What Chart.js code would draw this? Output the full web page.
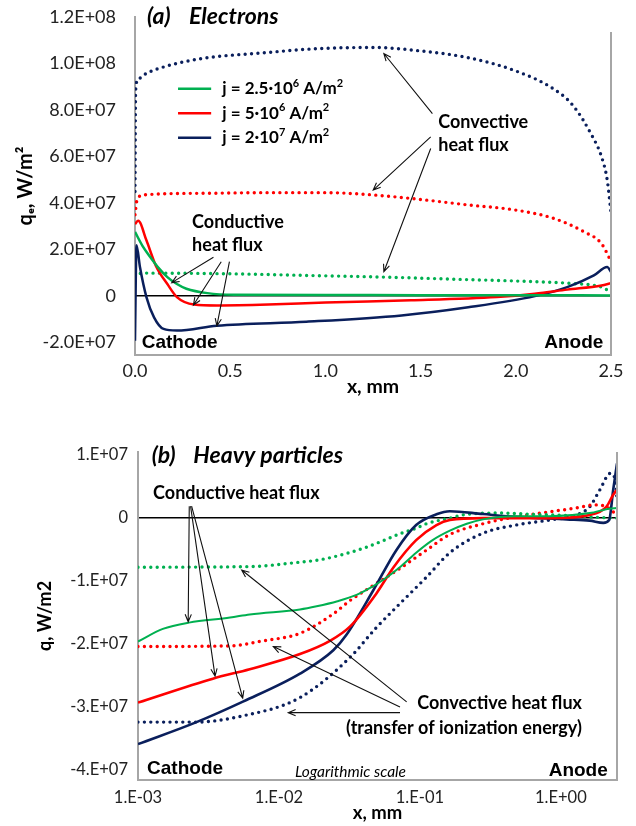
<!DOCTYPE html>
<html>
<head>
<meta charset="utf-8">
<script src="https://cdn.jsdelivr.net/npm/chart.js@4.4.1/dist/chart.umd.min.js"></script>
<style>
  html, body { margin: 0; padding: 0; background: #fff; }
  #top { position: absolute; left: 0; top: 0; width: 636px; height: 400px; }
  #bottom { position: absolute; left: 0; top: 420px; width: 636px; height: 406px; }
</style>
</head>
<body>
<div id="top"><canvas id="electrons"></canvas></div>
<div id="bottom"><canvas id="heavy"></canvas></div>
<script>
// ---- (a) Electrons, linear x ----
const eTicks = [-2e7, 0, 2e7, 4e7, 6e7, 8e7, 1e8, 1.2e8];
const eTickLabels = ["-2.0E+07", "0", "2.0E+07", "4.0E+07", "6.0E+07", "8.0E+07", "1.0E+08", "1.2E+08"];
const xTicks = [0, 0.5, 1, 1.5, 2, 2.5];
const xTickLabels = ["0.0", "0.5", "1.0", "1.5", "2.0", "2.5"];
const currentLabels = ["j = 2.5·10^6 A/m^2", "j = 5·10^6 A/m^2", "j = 2·10^7 A/m^2"];

// conductive (solid)
const eCondLowX = [0, 0.04, 0.08, 0.12, 0.17, 0.22, 0.27, 0.38, 0.52, 1.0, 1.5, 2.0, 2.5];
const eCondLow = [2.76e7, 2.15e7, 1.68e7, 1.25e7, 8.2e6, 5.2e6, 3.2e6, 1.3e6, 6e5, 5e5, 4e5, 4e5, 3e5];
const eCondMidX = [0, 0.017, 0.06, 0.11, 0.17, 0.22, 0.31, 0.43, 0.7, 1.0, 1.45, 1.9, 2.1, 2.27, 2.45, 2.5];
const eCondMid = [3.1e7, 3.24e7, 2.4e7, 1.3e7, 5.2e6, -4e5, -3.6e6, -4.0e6, -3.6e6, -2.7e6, -1.8e6, -4e5, 1.0e6, 2.8e6, 4.6e6, 5.6e6];
const eCondHighX = [0, 0.008, 0.026, 0.06, 0.1, 0.15, 0.22, 0.43, 0.9, 1.4, 1.75, 2.1, 2.27, 2.41, 2.48, 2.5];
const eCondHigh = [-1.92e7, 2.19e7, 1.25e7, -4e5, -9.1e6, -1.41e7, -1.48e7, -1.27e7, -1.1e7, -8.3e6, -4.8e6, 0, 3.9e6, 8.9e6, 1.25e7, 1.04e7];
// convective (dotted)
const eConvLowX = [0, 0.02, 0.05, 0.5, 0.9, 1.3, 1.75, 2.0, 2.3, 2.45, 2.5];
const eConvLow = [8.2e6, 9.5e6, 9.9e6, 9.6e6, 8.9e6, 8.2e6, 7.1e6, 6.5e6, 5.4e6, 3.9e6, 1.7e6];
const eConvMidX = [0, 0.01, 0.044, 0.34, 0.7, 1.0, 1.2, 1.45, 1.75, 2.0, 2.2, 2.36, 2.45, 2.5];
const eConvMid = [3.5e7, 4.1e7, 4.35e7, 4.42e7, 4.45e7, 4.45e7, 4.38e7, 4.2e7, 3.92e7, 3.7e7, 3.34e7, 2.76e7, 2.26e7, 1.5e7];
const eConvHighX = [0, 0.003, 0.015, 0.044, 0.13, 0.34, 0.69, 0.96, 1.25, 1.5, 1.75, 2.0, 2.2, 2.3, 2.4, 2.45, 2.48, 2.5];
const eConvHigh = [4.5e7, 8.8e7, 9.3e7, 9.5e7, 9.8e7, 1.02e8, 1.047e8, 1.064e8, 1.069e8, 1.054e8, 1.025e8, 9.68e7, 8.9e7, 8.2e7, 6.9e7, 6.0e7, 5.0e7, 3.6e7];

// ---- (b) Heavy particles, log x ----
const hTicks = [-4e7, -3e7, -2e7, -1e7, 0, 1e7];
const hTickLabels = ["-4.E+07", "-3.E+07", "-2.E+07", "-1.E+07", "0", "1.E+07"];
const logTicks = [1e-3, 1e-2, 1e-1, 1];
const logTickLabels = ["1.E-03", "1.E-02", "1.E-01", "1.E+00"];

const hCondLowX = [1e-3, 1.5e-3, 2.3e-3, 4.5e-3, 6.2e-3, 0.0141, 0.0185, 0.026, 0.0355, 0.045, 0.055, 0.072, 0.094, 0.123, 0.163, 0.215, 0.28, 0.48, 0.83, 1.6, 2.2, 2.5];
const hCondLow = [-1.96e7, -1.76e7, -1.66e7, -1.58e7, -1.53e7, -1.45e7, -1.4e7, -1.32e7, -1.22e7, -1.1e7, -9.8e6, -7.8e6, -5.5e6, -3.5e6, -2.0e6, -9e5, -2e5, 3e5, 3e5, 8e5, 1.5e6, 1.6e6];
const hConvLowX = [1e-3, 6.2e-3, 0.0141, 0.0185, 0.024, 0.042, 0.072, 0.094, 0.111, 0.163, 0.215, 0.37, 0.63, 1.1, 1.89, 2.5];
const hConvLow = [-7.8e6, -7.7e6, -7.0e6, -6.7e6, -6.2e6, -4.6e6, -2.5e6, -1.6e6, -9e5, 0, 6e5, 8e5, 6e5, 4e5, 1e5, 0];
const hCondMidX = [1e-3, 3.4e-3, 6.2e-3, 0.0141, 0.023, 0.032, 0.049, 0.065, 0.094, 0.131, 0.163, 0.28, 0.83, 1.6, 2.1, 2.35, 2.5];
const hCondMid = [-2.93e7, -2.55e7, -2.4e7, -2.16e7, -1.95e7, -1.72e7, -1.2e7, -7.8e6, -3.5e6, -1.1e6, -3e5, 0, 0, 5e5, 1.8e6, 3.7e6, 4.5e6];
const hConvMidX = [1e-3, 4.5e-3, 7.7e-3, 0.0141, 0.0243, 0.0319, 0.049, 0.072, 0.111, 0.163, 0.28, 0.48, 0.83, 1.28, 1.75, 2.1, 2.35, 2.5];
const hConvMid = [-2.04e7, -2.03e7, -1.95e7, -1.83e7, -1.52e7, -1.31e7, -1.04e7, -8.0e6, -5.1e6, -2.6e6, -9e5, 2e5, 1.0e6, 1.6e6, 2.1e6, 1.8e6, 1.0e6, 2e5];
const hCondHighX = [1e-3, 2.6e-3, 5.6e-3, 0.0141, 0.0243, 0.0302, 0.0466, 0.068, 0.094, 0.131, 0.163, 0.28, 0.48, 1.1, 1.6, 2.0, 2.2, 2.35, 2.5];
const hCondHigh = [-3.59e7, -3.24e7, -2.91e7, -2.47e7, -2.1e7, -1.85e7, -1.15e7, -5.1e6, -1.1e6, 6e5, 1.1e6, 6.4e5, 2e5, -2e5, -4e5, -7.5e5, -3e5, 4.5e6, 8.7e6];
const hConvHighX = [1e-3, 2.6e-3, 5.3e-3, 0.0141, 0.032, 0.049, 0.072, 0.111, 0.163, 0.28, 0.48, 0.83, 1.28, 1.6, 1.89, 2.24, 2.43, 2.5];
const hConvHigh = [-3.24e7, -3.24e7, -3.15e7, -2.85e7, -2.21e7, -1.74e7, -1.36e7, -9.4e6, -5.5e6, -2.4e6, -1.1e6, -3e5, 5e5, 1.8e6, 4.5e6, 7.1e6, 6.1e6, 3e6];

const GREEN = "#00b050", RED = "#ff0000", NAVY = "#0a1f5c";
const AXIS = "#a6a6a6";
const CLEAR = "rgba(0,0,0,0)";
const FONT = "Lato, 'DejaVu Sans', sans-serif";
Chart.defaults.font.family = FONT;

const pts = (xs, ys) => xs.map((x, i) => ({ x, y: ys[i] }));
const solid = (xs, ys, color, width) => ({
  data: pts(xs, ys), borderColor: color, borderWidth: width,
  pointRadius: 0, cubicInterpolationMode: "monotone",
});
const dotted = (xs, ys, color) => ({
  data: pts(xs, ys), borderColor: color, borderWidth: 3.4,
  borderDash: [0, 6.4], borderCapStyle: "round",
  pointRadius: 0, cubicInterpolationMode: "monotone",
});

// arrow with open head at (x2, y2)
const arrow = (ctx, x1, y1, x2, y2) => {
  const a = Math.atan2(y2 - y1, x2 - x1);
  ctx.beginPath();
  ctx.moveTo(x1, y1);
  ctx.lineTo(x2, y2);
  ctx.moveTo(x2 - 8 * Math.cos(a - 0.4), y2 - 8 * Math.sin(a - 0.4));
  ctx.lineTo(x2, y2);
  ctx.lineTo(x2 - 8 * Math.cos(a + 0.4), y2 - 8 * Math.sin(a + 0.4));
  ctx.stroke();
};

// text where "^c" is drawn as a superscript c
const drawRich = (ctx, text, x, y, size, style) => {
  text.split(/\^(.)/).forEach((part, i) => {
    const sup = i % 2 === 1;
    ctx.font = `${style} ${sup ? Math.round(size * 0.65) : size}px ${FONT}`;
    ctx.fillText(part, x, sup ? y - size * 0.33 : y);
    x += ctx.measureText(part).width;
  });
};

// notes: texts and arrows given in data coordinates
const notesPlugin = (texts, arrows, borderGap, legend) => ({
  id: "notes",
  afterDatasetsDraw(chart) {
    const { ctx, chartArea, scales: { x, y } } = chart;
    ctx.save();
    ctx.strokeStyle = AXIS;
    ctx.lineWidth = 2;
    ctx.beginPath();
    ctx.moveTo(chartArea.right, chartArea.top + borderGap);
    ctx.lineTo(chartArea.right, chartArea.bottom);
    ctx.stroke();

    ctx.fillStyle = "#000";
    ctx.textBaseline = "middle";
    texts.forEach((t) => {
      ctx.font = t.font;
      ctx.textAlign = t.align || "left";
      ctx.fillText(t.text, x.getPixelForValue(t.x), y.getPixelForValue(t.y));
    });

    ctx.strokeStyle = "#111";
    ctx.lineWidth = 1.1;
    arrows.forEach((a) => arrow(ctx,
      x.getPixelForValue(a[0]), y.getPixelForValue(a[1]),
      x.getPixelForValue(a[2]), y.getPixelForValue(a[3])));

    if (legend) {
      ctx.textAlign = "left";
      legend.labels.forEach((label, i) => {
        const ly = y.getPixelForValue(legend.y[i]);
        ctx.strokeStyle = chart.data.datasets[i].borderColor;
        ctx.lineWidth = 2.5;
        ctx.beginPath();
        ctx.moveTo(x.getPixelForValue(legend.x[0]), ly);
        ctx.lineTo(x.getPixelForValue(legend.x[1]), ly);
        ctx.stroke();
        ctx.fillStyle = "#000";
        drawRich(ctx, label, x.getPixelForValue(legend.x[2]), ly, 17, "bold");
      });
    }
    ctx.restore();
  },
});

const zeroLine = (c) => (c.tick && c.tick.value === 0 ? "#000" : CLEAR);

const BOLD = `bold 18px ${FONT}`;
const ITALIC_TITLE = `italic bold 23px ${FONT}`;
const ARIAL = "bold 19px 'Liberation Sans', Arial, sans-serif";

new Chart(document.getElementById("electrons"), {
  type: "line",
  data: {
    datasets: [
      solid(eCondLowX, eCondLow, GREEN, 2.5),
      solid(eCondMidX, eCondMid, RED, 2.5),
      solid(eCondHighX, eCondHigh, NAVY, 2.5),
      dotted(eConvLowX, eConvLow, GREEN),
      dotted(eConvMidX, eConvMid, RED),
      dotted(eConvHighX, eConvHigh, NAVY),
    ],
  },
  options: {
    animation: false,
    responsive: true,
    maintainAspectRatio: false,
    layout: { padding: { left: 14, right: 25, top: 17, bottom: 2 } },
    plugins: { legend: { display: false }, tooltip: { enabled: false } },
    scales: {
      x: {
        type: "linear", min: 0, max: 2.5,
        afterBuildTicks: (s) => { s.ticks = xTicks.map((v) => ({ value: v })); },
        afterFit: (s) => { s.height = 43; },
        ticks: { font: { size: 18 }, color: "#222", padding: 5, maxRotation: 0, callback: (v, i) => xTickLabels[i] },
        grid: { drawTicks: false, color: CLEAR },
        border: { color: AXIS, width: 2 },
        title: { display: true, text: "x, mm", font: { size: 19.5, weight: "bold" }, color: "#000", padding: 0 },
      },
      y: {
        min: -2.53e7, max: 1.2e8,
        afterBuildTicks: (s) => { s.ticks = eTicks.map((v) => ({ value: v })); },
        afterFit: (s) => { s.width = 121; },
        // gap to the axis comes from an invisible tick mark, so it does not pad the top
        ticks: { font: { size: 18 }, color: "#222", padding: 3, callback: (v, i) => eTickLabels[i] },
        grid: { drawTicks: true, tickLength: 16, tickColor: CLEAR, color: zeroLine, lineWidth: 1.5 },
        border: { color: AXIS, width: 2 },
        title: { display: true, text: "qₑ, W/m²", font: { size: 20, weight: "bold" }, color: "#000", padding: 0 },
      },
    },
  },
  plugins: [notesPlugin(
    [
      { text: "(a)", x: 0.063, y: 1.2e8, font: ITALIC_TITLE },
      { text: "Electrons", x: 0.284, y: 1.2e8, font: ITALIC_TITLE },
      { text: "Conductive", x: 0.3, y: 3.2e7, font: BOLD },
      { text: "heat flux", x: 0.3, y: 2.19e7, font: BOLD },
      { text: "Convective", x: 1.593, y: 7.49e7, font: BOLD },
      { text: "heat flux", x: 1.593, y: 6.49e7, font: BOLD },
      { text: "Cathode", x: 0.035, y: -2.0e7, font: ARIAL },
      { text: "Anode", x: 2.46, y: -2.0e7, font: ARIAL, align: "right" },
    ],
    [
      [0.412, 1.67e7, 0.193, 5.8e6],
      [0.453, 1.48e7, 0.307, -3.8e6],
      [0.496, 1.48e7, 0.43, -1.28e7],
      [1.562, 7.85e7, 1.307, 1.043e8],
      [1.553, 6.85e7, 1.251, 4.56e7],
      [1.553, 6.35e7, 1.307, 1.05e7],
    ],
    15,
    { labels: currentLabels, x: [0.226, 0.4, 0.458], y: [8.92e7, 7.86e7, 6.81e7] }
  )],
});

new Chart(document.getElementById("heavy"), {
  type: "line",
  data: {
    datasets: [
      solid(hCondLowX, hCondLow, GREEN, 2),
      solid(hCondMidX, hCondMid, RED, 2.6),
      solid(hCondHighX, hCondHigh, NAVY, 2.6),
      dotted(hConvLowX, hConvLow, GREEN),
      dotted(hConvMidX, hConvMid, RED),
      dotted(hConvHighX, hConvHigh, NAVY),
    ],
  },
  options: {
    animation: false,
    responsive: true,
    maintainAspectRatio: false,
    layout: { padding: { left: 34, right: 19, top: 32, bottom: 2 } },
    plugins: { legend: { display: false }, tooltip: { enabled: false } },
    scales: {
      x: {
        type: "logarithmic", min: 1e-3, max: 2.5,
        afterBuildTicks: (s) => { s.ticks = logTicks.map((v) => ({ value: v })); },
        afterFit: (s) => { s.height = 44; },
        ticks: { font: { size: 16.5 }, color: "#222", padding: 8, maxRotation: 0, autoSkip: false, callback: (v, i) => logTickLabels[i] },
        grid: { drawTicks: false, color: CLEAR },
        border: { color: AXIS, width: 2 },
        title: { display: true, text: "x, mm", font: { size: 18.5, weight: "bold" }, color: "#000", padding: 0 },
      },
      y: {
        min: -4.16e7, max: 1.05e7,
        afterBuildTicks: (s) => { s.ticks = hTicks.map((v) => ({ value: v })); },
        afterFit: (s) => { s.width = 104; },
        ticks: { font: { size: 16.5 }, color: "#222", padding: 10, callback: (v, i) => hTickLabels[i] },
        grid: { drawTicks: false, color: zeroLine, lineWidth: 1.5 },
        border: { color: AXIS, width: 2 },
        title: { display: true, text: "q, W/m2", font: { size: 18, weight: "bold" }, color: "#000", padding: 0 },
      },
    },
  },
  plugins: [notesPlugin(
    [
      { text: "(b)", x: 1.25e-3, y: 9.9e6, font: ITALIC_TITLE },
      { text: "Heavy particles", x: 2.47e-3, y: 9.9e6, font: ITALIC_TITLE },
      { text: "Conductive heat flux", x: 1.28e-3, y: 4.0e6, font: BOLD },
      { text: "Convective heat flux", x: 1.41, y: -2.94e7, font: BOLD, align: "right" },
      { text: "(transfer of ionization energy)", x: 1.41, y: -3.34e7, font: BOLD, align: "right" },
      { text: "Cathode", x: 1.16e-3, y: -3.98e7, font: ARIAL },
      { text: "Logarithmic scale", x: 0.013, y: -4.03e7, font: `italic 15.5px ${FONT}` },
      { text: "Anode", x: 2.15, y: -4.01e7, font: ARIAL, align: "right" },
    ],
    [
      [2.31e-3, 1.9e6, 2.27e-3, -1.646e7],
      [2.36e-3, 1.9e6, 3.52e-3, -2.51e7],
      [2.4e-3, 1.9e6, 5.53e-3, -2.86e7],
      [0.0805, -2.92e7, 5.44e-3, -8.25e6],
      [0.0722, -3.0e7, 9.12e-3, -2.04e7],
      [0.0722, -3.09e7, 0.01164, -3.09e7],
    ],
    0,
    null
  )],
});
</script>
</body>
</html>
